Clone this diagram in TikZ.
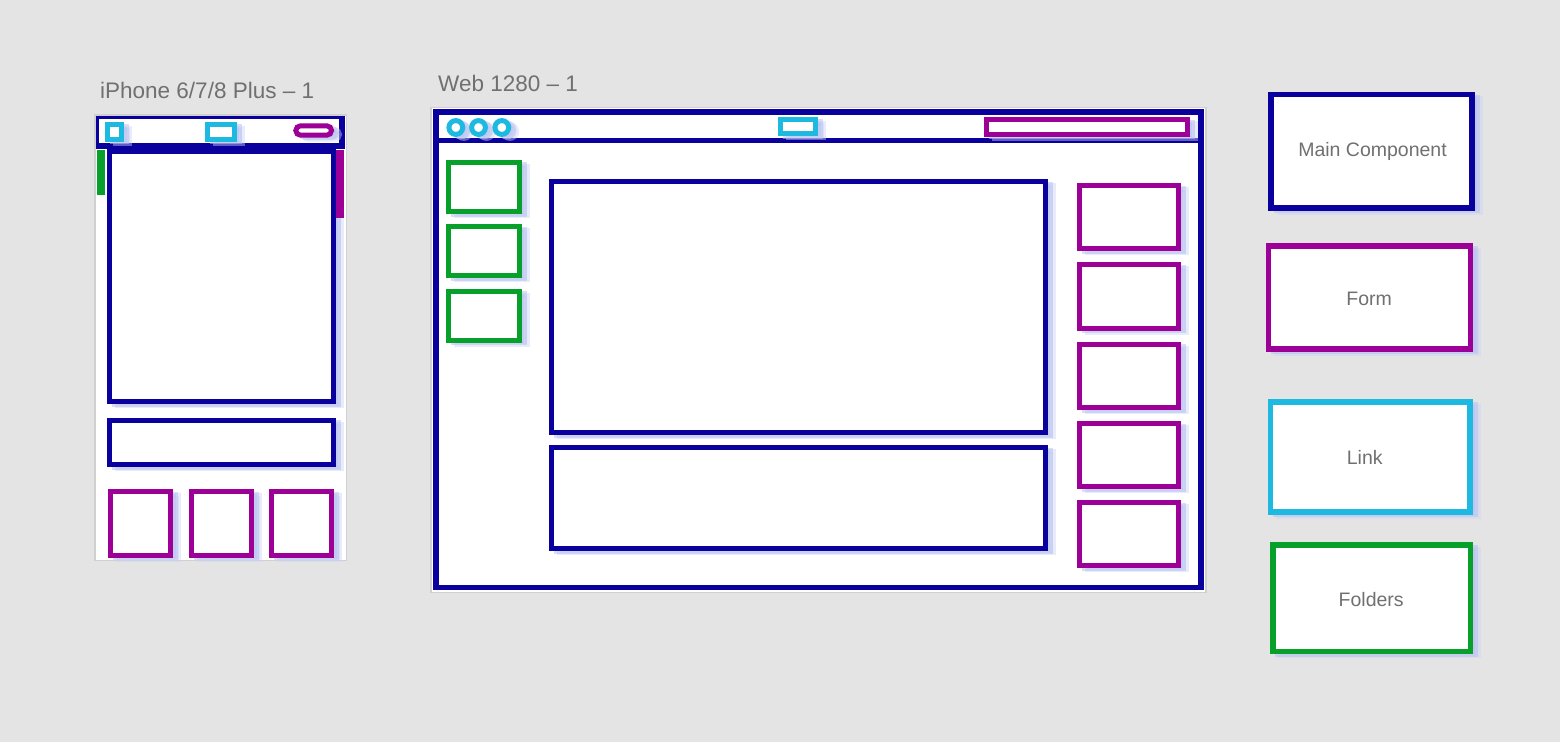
\documentclass[tikz,border=0pt]{standalone}
\usepackage{fontspec}
\setmainfont{Liberation Sans}
\definecolor{canvasbg}{RGB}{228,228,228}
\definecolor{navy}{RGB}{10,0,158}
\definecolor{plum}{RGB}{156,0,150}
\definecolor{sky}{RGB}{30,185,224}
\definecolor{leaf}{RGB}{6,160,42}
\definecolor{boardline}{RGB}{208,208,208}
\definecolor{labelgray}{RGB}{112,112,112}
\definecolor{shadenear}{RGB}{185,195,240}
\definecolor{shadefar}{RGB}{205,212,245}
\begin{document}
\begin{tikzpicture}[x=1pt,y=-1pt,
  artboard/.style={fill=white, draw=boardline, line width=1.5pt},
  wire/.style={line width=5pt, fill=white,
    preaction={fill=shadefar, draw=shadefar, line width=5pt, opacity=.45,
      transform canvas={shift={(8pt,-4pt)}}},
    preaction={fill=shadenear, draw=shadenear, line width=5pt, opacity=.55,
      transform canvas={shift={(5pt,-2.5pt)}}}},
  strip/.style={fill=#1, draw=none},
  boardtitle/.style={text=labelgray, inner sep=0pt, anchor=base west,
    font=\fontsize{22.5}{26}\selectfont},
  keybox/.style={wire, draw=#1, minimum width=200pt, minimum height=110pt,
    inner sep=0pt, outer sep=0pt, line width=5.5pt},
  keytext/.style={text=labelgray, inner sep=0pt, anchor=base,
    font=\fontsize{19.5}{23}\selectfont}]

% canvas
\useasboundingbox (0,0) rectangle (1560,742);
\fill[canvasbg] (0,0) rectangle (1560,742);

% ---------------- phone artboard ----------------
\node[boardtitle] (phonetitle) at (100,98) {iPhone 6/7/8 Plus – 1};
\draw[artboard] (95,115) rectangle (346.5,560.5);

% header bar, cut off by the artboard edge
\begin{scope}
  \clip (96,116) rectangle (346,560);
  \draw[navy, line width=6pt] (95.5,115.5) rectangle (342,146);
\end{scope}
\draw[wire, draw=sky] (107.5,124.3) rectangle (121.5,139.2);
\draw[wire, draw=sky] (207.5,124.2) rectangle (234.2,139.2);
\draw[wire, draw=plum, rounded corners=4.7pt] (295.8,125.8) rectangle (331.5,135.2);

% content
\draw[wire, draw=navy] (109.2,151.5) rectangle (333.4,401.7);
\draw[wire, draw=navy] (109.2,420) rectangle (333.4,464.8);
\fill[strip=leaf] (96.5,150) rectangle (105,195);
\fill[strip=plum] (335.5,150) rectangle (344,218);
\foreach \xa/\xb in {110.8/170.8, 191.5/251.5, 271.5/331.5}
  \draw[wire, draw=plum] (\xa,491.8) rectangle (\xb,555.2);

% ---------------- web artboard ----------------
\node[boardtitle] (webtitle) at (438,91.7) {Web 1280 – 1};
\draw[artboard] (431,107.5) rectangle (1206,592.5);
\draw[navy, line width=5.5pt] (435.8,111.8) rectangle (1201,587.5);
\draw[navy, line width=5.5pt] (435.8,140.5) -- (1201,140.5);

% window controls and header items
\foreach \cx in {455.8, 478.5, 501.8}
  \draw[wire, draw=sky] (\cx,127.5) circle[radius=6.9pt];
\draw[wire, draw=sky] (780.8,119.2) rectangle (815.8,133.5);
\draw[wire, draw=plum] (986,119.5) rectangle (1187,134);

% folders column
\foreach \ya/\yb in {162/211.5, 226.5/275.5, 291/340}
  \draw[wire, draw=leaf] (448.8,\ya) rectangle (519,\yb);

% main panels
\draw[wire, draw=navy] (551.8,181.5) rectangle (1045,432.5);
\draw[wire, draw=navy] (551.8,447.5) rectangle (1045,548.5);

% form column
\foreach \ya in {185.6, 264.9, 344.2, 423.5, 502.5}
  \draw[wire, draw=plum] (1079.2,\ya) rectangle (1178.2,\ya+63.3);

% ---------------- key ----------------
\node[keybox=navy, minimum width=201pt, minimum height=113.5pt] (keymain) at (1371.5,151.25) {};
\node[keybox=plum, minimum width=202pt, minimum height=103pt] (keyform) at (1369.5,297.5) {};
\node[keybox=sky, minimum width=199.5pt, minimum height=110pt] (keylink) at (1370.25,457) {};
\node[keybox=leaf, minimum width=197.7pt, minimum height=106.5pt] (keyfolders) at (1371.6,598.25) {};

\node[keytext] (keymaintext) at (1372.5,156) {Main Component};
\node[keytext] (keyformtext) at (1369.2,305) {Form};
\node[keytext] (keylinktext) at (1364.7,464) {Link};
\node[keytext] (keyfolderstext) at (1371.2,606) {Folders};
\end{tikzpicture}
\end{document}
